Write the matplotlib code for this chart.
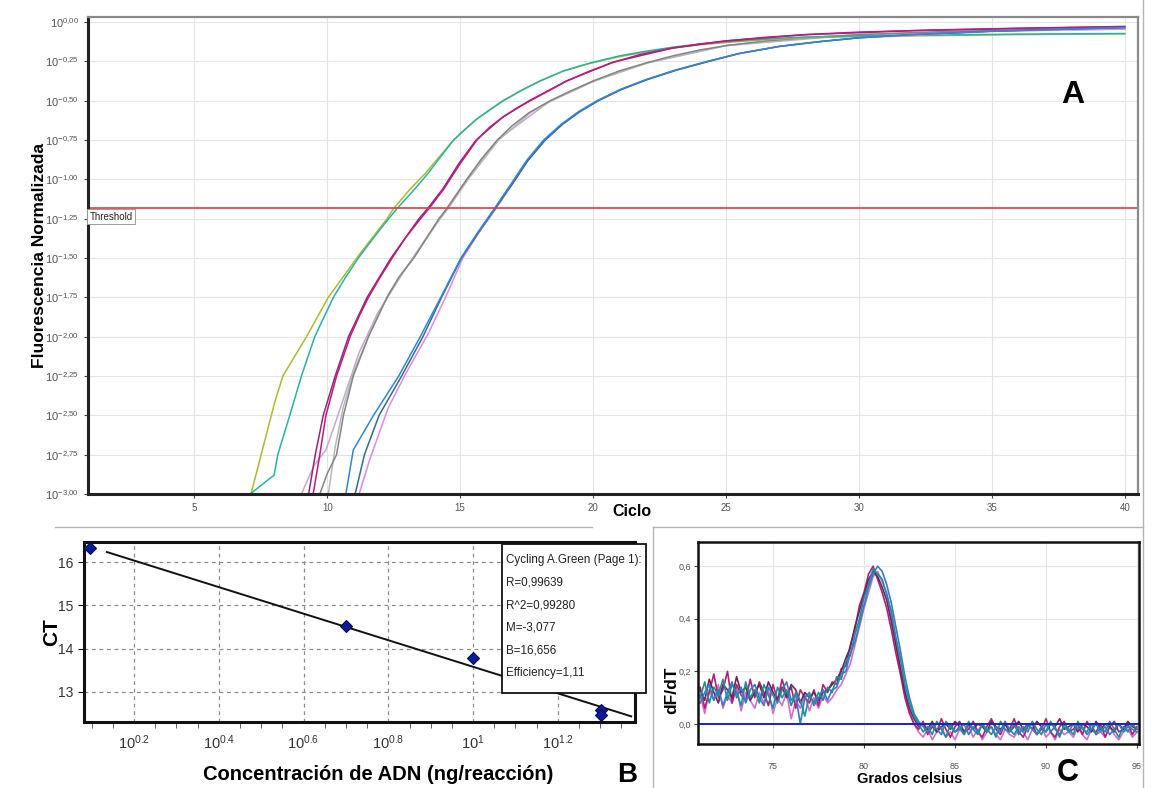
import numpy as np
import matplotlib

matplotlib.use("Agg")
import matplotlib.pyplot as plt
from matplotlib.lines import Line2D
from matplotlib.patches import Rectangle
from matplotlib.ticker import FixedLocator, NullFormatter

plt.rcParams["font.family"] = ["Liberation Sans", "DejaVu Sans"]
plt.rcParams["mathtext.fontset"] = "custom"
plt.rcParams["mathtext.rm"] = "Liberation Sans"
plt.rcParams["mathtext.it"] = "Liberation Sans"

W, H = 1157, 788

# ---------------- panel A: amplification curves (cycle, log10 fluorescence)
olive_cycle = [7.13, 8.02, 8.33, 9.22, 10.04, 10.6, 11.11, 11.7, 12.25, 12.5,
               13.13, 13.7, 14.2, 14.7, 15.2, 15.6, 16.1, 16.6, 17.3, 18.0,
               18.9, 19.9, 21.0, 22.0, 23.0, 24.0, 25.0, 26.5, 28.0, 30.0,
               33.0, 36.0, 40.0]
olive_logf = [-3.0, -2.42, -2.25, -2.0, -1.75, -1.62, -1.5, -1.37, -1.25, -1.185,
              -1.06, -0.96, -0.86, -0.76, -0.68, -0.62, -0.56, -0.5, -0.435, -0.375,
              -0.31, -0.262, -0.22, -0.19, -0.165, -0.145, -0.13, -0.112, -0.1, -0.092,
              -0.086, -0.08, -0.075]
teal_cycle = [7.1, 8.0, 8.14, 8.59, 9.03, 9.53, 10.23, 10.7, 11.17, 11.75,
              12.31, 12.63, 13.3, 13.8, 14.25, 14.75, 15.2, 15.6, 16.1, 16.63,
              17.3, 18.0, 18.9, 19.9, 21.0, 22.0, 23.0, 24.0, 25.0, 26.5,
              28.0, 30.0, 33.0, 36.0, 40.0]
teal_logf = [-3.0, -2.88, -2.75, -2.5, -2.25, -2.0, -1.75, -1.62, -1.5, -1.37,
             -1.25, -1.185, -1.06, -0.96, -0.86, -0.75, -0.68, -0.62, -0.56, -0.5,
             -0.435, -0.375, -0.31, -0.26, -0.215, -0.185, -0.16, -0.14, -0.125, -0.107,
             -0.095, -0.088, -0.082, -0.077, -0.073]
magenta_cycle = [9.47, 9.72, 9.95, 10.35, 10.86, 11.2, 11.55, 12.0, 12.44, 12.95,
                 13.51, 13.83, 14.39, 15.0, 15.63, 16.1, 16.6, 17.1, 17.64, 18.3,
                 19.0, 19.9, 20.78, 21.8, 23.0, 24.0, 25.0, 26.5, 28.0, 30.0,
                 33.0, 36.0, 40.0]
magenta_logf = [-3.0, -2.75, -2.5, -2.25, -2.0, -1.87, -1.75, -1.62, -1.5, -1.37,
                -1.25, -1.185, -1.06, -0.9, -0.75, -0.67, -0.605, -0.55, -0.5, -0.44,
                -0.375, -0.31, -0.255, -0.205, -0.165, -0.14, -0.12, -0.097, -0.08, -0.064,
                -0.05, -0.04, -0.03]
purple_cycle = [9.3, 9.55, 9.85, 10.3, 10.8, 11.5, 12.4, 13.45, 13.78, 14.35,
                14.95, 15.6, 16.6, 17.6, 19.0, 20.75, 23.0, 25.0, 28.0, 32.0,
                36.0, 40.0]
purple_logf = [-3.0, -2.75, -2.5, -2.25, -2.0, -1.75, -1.5, -1.25, -1.185, -1.06,
               -0.9, -0.75, -0.605, -0.5, -0.375, -0.255, -0.165, -0.12, -0.08, -0.055,
               -0.04, -0.028]
lavender_cycle = [9.03, 9.5, 9.95, 10.3, 10.7, 11.2, 11.9, 12.9, 13.9, 14.5,
                  15.25, 16.4, 18.4, 20.0, 22.0, 25.0, 30.0, 35.0, 40.0]
lavender_logf = [-3.0, -2.82, -2.72, -2.55, -2.35, -2.1, -1.85, -1.58, -1.33, -1.185,
                 -1.0, -0.75, -0.5, -0.375, -0.26, -0.15, -0.08, -0.055, -0.045]
gray_cycle = [9.72, 10.0, 10.35, 10.61, 10.98, 11.55, 12.25, 12.7, 13.26, 13.75,
              14.2, 14.5, 15.25, 15.8, 16.4, 16.95, 17.6, 18.39, 19.2, 20.0,
              21.0, 22.0, 23.0, 24.0, 25.0, 26.5, 28.0, 30.0, 33.0, 36.0,
              40.0]
gray_logf = [-3.0, -2.87, -2.75, -2.5, -2.25, -2.0, -1.75, -1.62, -1.5, -1.37,
             -1.25, -1.185, -1.0, -0.87, -0.75, -0.66, -0.575, -0.5, -0.435, -0.375,
             -0.31, -0.26, -0.215, -0.178, -0.15, -0.12, -0.1, -0.08, -0.062, -0.05,
             -0.04]
lightgray_cycle = [10.04, 10.3, 10.6, 11.0, 11.6, 12.3, 13.3, 14.25, 14.55, 15.3,
                   16.45, 17.65, 18.45, 20.05, 22.05, 25.0, 28.0, 32.0, 36.0, 40.0]
lightgray_logf = [-3.0, -2.7, -2.45, -2.22, -1.98, -1.73, -1.48, -1.25, -1.185, -1.0,
                  -0.75, -0.575, -0.5, -0.375, -0.26, -0.15, -0.1, -0.07, -0.055, -0.045]
blue_cycle = [10.7, 10.98, 11.74, 12.69, 13.5, 14.27, 15.03, 15.65, 16.29, 16.95,
              17.5, 18.14, 18.8, 19.45, 20.15, 21.0, 22.0, 23.1, 24.3, 25.5,
              27.0, 28.5, 30.0, 32.0, 35.0, 40.0]
blue_logf = [-3.0, -2.72, -2.5, -2.25, -2.0, -1.75, -1.5, -1.34, -1.185, -1.02,
             -0.88, -0.75, -0.65, -0.57, -0.5, -0.43, -0.365, -0.305, -0.25, -0.2,
             -0.155, -0.125, -0.1, -0.08, -0.058, -0.035]
steel_cycle = [11.05, 11.4, 11.95, 12.8, 13.6, 14.3, 15.05, 15.68, 16.32, 17.0,
               17.55, 18.2, 18.85, 19.5, 20.2, 21.05, 22.05, 23.15, 24.35, 25.5,
               27.0, 28.5, 30.0, 32.0, 35.0, 40.0]
steel_logf = [-3.0, -2.75, -2.5, -2.25, -2.0, -1.75, -1.5, -1.34, -1.185, -1.02,
              -0.88, -0.75, -0.65, -0.57, -0.5, -0.43, -0.365, -0.305, -0.25, -0.2,
              -0.155, -0.125, -0.1, -0.08, -0.058, -0.035]
pink_cycle = [11.2, 11.6, 12.3, 13.0, 13.8, 14.45, 15.1, 15.7, 16.35, 17.0,
              17.55, 18.2, 18.85, 19.5, 20.2, 21.05, 22.05, 23.15, 24.35, 25.5,
              27.0, 28.5, 30.0, 32.0, 35.0, 40.0]
pink_logf = [-3.0, -2.78, -2.45, -2.22, -1.98, -1.75, -1.5, -1.34, -1.185, -1.02,
             -0.88, -0.75, -0.65, -0.57, -0.5, -0.43, -0.365, -0.305, -0.25, -0.2,
             -0.155, -0.125, -0.1, -0.085, -0.06, -0.04]
threshold_log = -1.185
a_ytick_exp = [0.0, -0.25, -0.5, -0.75, -1.0, -1.25, -1.5, -1.75, -2.0, -2.25, -2.5, -2.75, -3.0]
a_xticks = [5, 10, 15, 20, 25, 30, 35, 40]

# ---------------- panel B: standard curve
conc_ng = [1.25, 5.0, 10.0, 20.0, 20.0]
ct_values = [16.32, 14.53, 13.79, 12.58, 12.47]
fit_m = -3.077
fit_b = 16.656
fit_log_range = [0.136, 1.373]
b_xtick_log = [0.2, 0.4, 0.6, 0.8, 1.0, 1.2]
b_xtick_labels = ["$10^{0.2}$", "$10^{0.4}$", "$10^{0.6}$", "$10^{0.8}$", "$10^{1}$", "$10^{1.2}$"]
b_yticks = [13, 14, 15, 16]
fit_text = ["Cycling A.Green (Page 1):", "R=0,99639", "R^2=0,99280", "M=-3,077",
            "B=16,656", "Efficiency=1,11"]

# ---------------- panel C: melt curves, dF/dT every 0.25 degC from 71 to 95
melt_temp = np.arange(71.0, 95.01, 0.25)
melt_pink = [0.11, 0.04, 0.13, 0.09, 0.15, 0.06, 0.11, 0.08, 0.14, 0.05, 0.12, 0.09,
             0.06, 0.12, 0.08, 0.13, 0.04, 0.10, 0.07, 0.12, 0.02, 0.09, 0.06, 0.11,
             0.05, 0.10, 0.06, 0.11, 0.08, 0.10, 0.13, 0.15, 0.19, 0.23, 0.30, 0.37,
             0.44, 0.50, 0.56, 0.58, 0.54, 0.50, 0.41, 0.32, 0.22, 0.13, 0.05, 0.00,
             -0.03, -0.05, -0.02, -0.06, -0.03, -0.01, -0.05, -0.03, -0.06, -0.02, -0.04, -0.01,
             -0.05, -0.02, -0.06, -0.03, -0.01, -0.04, -0.06, -0.02, -0.04, -0.05, -0.02, -0.03,
             -0.06, -0.02, -0.04, -0.01, -0.05, -0.03, -0.06, -0.02, -0.04, -0.03, -0.05, -0.01,
             -0.04, -0.06, -0.02, -0.04, -0.03, -0.05, -0.01, -0.04, -0.06, -0.03, -0.02, -0.05,
             -0.03]
melt_magenta = [0.14, 0.06, 0.12, 0.19, 0.10, 0.13, 0.20, 0.08, 0.15, 0.11, 0.09, 0.17,
                0.10, 0.16, 0.12, 0.07, 0.15, 0.09, 0.17, 0.11, 0.14, 0.06, 0.13, 0.10,
                0.08, 0.13, 0.07, 0.15, 0.12, 0.16, 0.15, 0.21, 0.22, 0.30, 0.36, 0.45,
                0.50, 0.57, 0.60, 0.55, 0.50, 0.44, 0.36, 0.27, 0.19, 0.10, 0.04, 0.00,
                -0.02, 0.01, -0.04, -0.01, -0.03, 0.02, -0.02, -0.05, -0.01, 0.01, -0.03, -0.02,
                0.01, -0.03, -0.05, -0.01, 0.02, -0.02, -0.04, 0.00, -0.02, 0.02, -0.03, -0.05,
                -0.01, 0.00, -0.04, -0.02, 0.02, -0.03, -0.05, -0.01, 0.01, -0.03, -0.02, 0.00,
                -0.04, 0.01, -0.02, -0.03, 0.00, -0.05, -0.01, 0.01, -0.03, -0.02, 0.00, -0.04,
                -0.01]
melt_maroon = [0.13, 0.09, 0.17, 0.12, 0.08, 0.15, 0.13, 0.10, 0.18, 0.12, 0.14, 0.09,
               0.12, 0.15, 0.10, 0.16, 0.12, 0.09, 0.14, 0.10, 0.15, 0.13, 0.08, 0.12,
               0.10, 0.12, 0.09, 0.12, 0.13, 0.15, 0.17, 0.20, 0.25, 0.29, 0.37, 0.43,
               0.49, 0.55, 0.58, 0.56, 0.52, 0.47, 0.39, 0.30, 0.21, 0.12, 0.06, 0.02,
               -0.01, 0.00, -0.02, 0.01, -0.03, -0.01, 0.00, -0.02, 0.01, -0.01, -0.03, 0.00,
               -0.02, 0.00, -0.01, -0.03, 0.01, -0.01, -0.02, 0.00, -0.03, -0.01, 0.01, -0.02,
               0.00, -0.02, 0.01, -0.01, -0.03, 0.00, -0.01, 0.02, -0.02, -0.01, 0.00, -0.03,
               0.00, -0.01, -0.03, 0.01, -0.02, 0.00, -0.01, -0.03, 0.00, -0.02, 0.01, -0.01,
               -0.02]
melt_blue = [0.08, 0.12, 0.15, 0.09, 0.13, 0.07, 0.12, 0.16, 0.10, 0.14, 0.08, 0.13,
             0.15, 0.10, 0.07, 0.14, 0.11, 0.08, 0.13, 0.16, 0.09, 0.11, 0.00, 0.10,
             0.12, 0.07, 0.10, 0.13, 0.09, 0.13, 0.14, 0.19, 0.20, 0.27, 0.31, 0.38,
             0.45, 0.52, 0.57, 0.60, 0.58, 0.53, 0.46, 0.37, 0.28, 0.18, 0.10, 0.04,
             0.01, -0.01, -0.03, 0.00, -0.02, -0.04, 0.01, -0.01, -0.03, -0.02, 0.00, -0.04,
             -0.01, -0.03, 0.00, -0.02, -0.04, -0.01, -0.03, 0.01, -0.02, -0.04, -0.01, -0.03,
             0.00, -0.02, -0.04, -0.01, -0.03, 0.01, -0.02, -0.04, -0.01, -0.03, 0.00, -0.02,
             -0.01, -0.04, -0.02, 0.00, -0.03, -0.01, -0.04, -0.02, 0.00, -0.03, -0.01, -0.02,
             -0.03]
melt_teal = [0.10, 0.16, 0.08, 0.14, 0.11, 0.17, 0.09, 0.15, 0.12, 0.07, 0.16, 0.10,
             0.13, 0.08, 0.15, 0.11, 0.06, 0.14, 0.10, 0.13, 0.07, 0.12, 0.09, 0.03,
             0.11, 0.08, 0.12, 0.09, 0.14, 0.12, 0.18, 0.17, 0.24, 0.26, 0.34, 0.40,
             0.48, 0.53, 0.59, 0.57, 0.55, 0.49, 0.43, 0.33, 0.25, 0.15, 0.08, 0.03,
             0.00, -0.03, -0.01, -0.04, 0.01, -0.02, -0.05, 0.00, -0.03, -0.01, -0.04, 0.01,
             -0.02, -0.04, 0.00, -0.03, -0.01, -0.05, 0.01, -0.02, -0.03, 0.00, -0.04, -0.01,
             -0.03, 0.01, -0.02, -0.04, 0.00, -0.03, -0.01, -0.05, 0.00, -0.02, -0.04, 0.01,
             -0.02, -0.03, 0.00, -0.04, -0.01, -0.03, 0.01, -0.02, -0.05, -0.01, -0.03, 0.00,
             -0.02]
c_xticks = [75, 80, 85, 90, 95]
c_yticks = [0.0, 0.2, 0.4, 0.6]


def fig_box(left, top, right, bottom):
    """Axes rectangle from pixel edges of the reference image."""
    return [left / W, 1 - bottom / H, (right - left) / W, (bottom - top) / H]


def fig_xy(x, y):
    return x / W, 1 - y / H


fig = plt.figure(figsize=(W / 100, H / 100), dpi=100)

# ---------------- panel A
axA = fig.add_axes(fig_box(88, 17, 1138, 494))
axA.set_yscale("log")
axA.set_xlim(1.0, 40.5)
axA.set_ylim(10 ** -3.0, 10 ** 0.032)
axA.yaxis.set_major_locator(FixedLocator([10 ** e for e in a_ytick_exp]))
axA.yaxis.set_minor_locator(FixedLocator([]))
axA.set_yticklabels(["$10^{%s}$" % f"{e:.2f}".replace(".", "{,}") for e in a_ytick_exp])
axA.set_xticks(a_xticks)
axA.grid(True, color="#e4e4e4", lw=0.8)
axA.set_axisbelow(True)
axA.tick_params(axis="both", labelsize=7, labelcolor="#555555", color="#444444", length=3)
axA.tick_params(axis="y", labelsize=8)
for side in ("left", "bottom"):
    axA.spines[side].set_linewidth(2.2)
    axA.spines[side].set_color("#222222")
for side in ("top", "right"):
    axA.spines[side].set_linewidth(1.6)
    axA.spines[side].set_color("#8a8a8a")

curves = [
    (lavender_cycle, lavender_logf, "#c7a6cf"),
    (lightgray_cycle, lightgray_logf, "#b8b8b8"),
    (gray_cycle, gray_logf, "#858585"),
    (olive_cycle, olive_logf, "#aebb2a"),
    (teal_cycle, teal_logf, "#25b4a8"),
    (purple_cycle, purple_logf, "#8a2a7e"),
    (magenta_cycle, magenta_logf, "#c8157e"),
    (pink_cycle, pink_logf, "#e486e6"),
    (steel_cycle, steel_logf, "#2f6d92"),
    (blue_cycle, blue_logf, "#2f86db"),
]
for cyc, logf, color in curves:
    axA.plot(cyc, 10 ** np.array(logf), color=color, lw=1.1)

axA.axhline(10 ** threshold_log, color="#e23c3c", lw=1.2)
axA.text(1.06, 10 ** (threshold_log - 0.02), "Threshold", fontsize=7, va="top", ha="left",
         color="#222222",
         bbox=dict(boxstyle="square,pad=0.25", fc="white", ec="#9a9a9a", lw=0.7))

fig.text(*fig_xy(40, 255), "Fluorescencia Normalizada", rotation=90, fontsize=12.5,
         fontweight="bold", ha="center", va="center")
fig.text(*fig_xy(632, 512), "Ciclo", fontsize=11.5, fontweight="bold",
         ha="center", va="center")
fig.text(*fig_xy(1073, 95), "A", fontsize=23, fontweight="bold",
         ha="center", va="center")

# ---------------- panel B
axB = fig.add_axes(fig_box(84, 542, 635, 722))
axB.set_xscale("log")
axB.set_xlim(10 ** 0.082, 10 ** 1.382)
axB.set_ylim(12.3, 16.47)
axB.xaxis.set_major_locator(FixedLocator([10 ** v for v in b_xtick_log]))
axB.xaxis.set_minor_locator(FixedLocator([10 ** (0.1 + 0.05 * k) for k in range(27)]))
axB.xaxis.set_minor_formatter(NullFormatter())
axB.set_xticklabels(b_xtick_labels)
axB.set_yticks(b_yticks)
axB.grid(True, which="major", ls=(0, (3, 3)), color="#8c8c8c", lw=0.9)
axB.set_axisbelow(True)
for side in axB.spines:
    axB.spines[side].set_linewidth(2.2)
    axB.spines[side].set_color("#111111")
axB.tick_params(axis="x", which="major", length=0, labelsize=10.5, pad=8, labelcolor="#333333")
axB.tick_params(axis="x", which="minor", length=4, color="#444444")
axB.tick_params(axis="y", length=4, labelsize=10, labelcolor="#333333")

line_x = [10 ** v for v in fit_log_range]
line_y = [fit_m * v + fit_b for v in fit_log_range]
axB.plot(line_x, line_y, color="#111111", lw=1.4)
axB.plot(conc_ng, ct_values, ls="none", marker="D", ms=6, mfc="#0d1a9c",
         mec="#06104f", mew=0.8, clip_on=False, zorder=5)

box_l, box_t, box_r, box_b = 502, 544, 646, 693
fig.patches.append(Rectangle((box_l / W, 1 - box_b / H), (box_r - box_l) / W,
                             (box_b - box_t) / H, transform=fig.transFigure,
                             fc="white", ec="#111111", lw=1.3, zorder=10))
for k, line in enumerate(fit_text):
    fig.text(*fig_xy(506, 560 + 22.6 * k), line, fontsize=8.4,
             color="#222222", ha="left", va="center", zorder=11)

fig.text(*fig_xy(52, 632), "CT", rotation=90, fontsize=15, fontweight="bold",
         ha="center", va="center")
fig.text(*fig_xy(378, 774), "Concentración de ADN (ng/reacción)", fontsize=14.5,
         fontweight="bold", ha="center", va="center")
fig.text(*fig_xy(627, 775), "B", fontsize=20, fontweight="bold", ha="center", va="center")

# ---------------- panel C
axC = fig.add_axes(fig_box(698, 542, 1139, 744))
axC.set_xlim(70.88, 95.11)
axC.set_ylim(-0.076, 0.692)
axC.set_xticks(c_xticks)
axC.set_yticks(c_yticks)
axC.set_yticklabels([f"{v:.1f}".replace(".", ",") for v in c_yticks])
axC.grid(True, color="#e4e4e4", lw=0.8)
axC.set_axisbelow(True)
for side in axC.spines:
    axC.spines[side].set_linewidth(1.8)
    axC.spines[side].set_color("#111111")
axC.tick_params(axis="both", labelsize=6.5, labelcolor="#555555", color="#444444", length=3)
axC.tick_params(axis="x", pad=10)
axC.tick_params(axis="y", pad=2)

for trace, color in ((melt_pink, "#d86ad8"), (melt_magenta, "#b51e7a"),
                     (melt_maroon, "#6e2458"), (melt_blue, "#2f7fd0"),
                     (melt_teal, "#1c8f98")):
    axC.plot(melt_temp, trace, color=color, lw=1.2)
axC.axhline(0.0, color="#1a22c8", lw=1.4)

fig.text(*fig_xy(672, 690), "dF/dT", rotation=90, fontsize=12.5, fontweight="bold",
         ha="center", va="center")
fig.text(*fig_xy(910, 779), "Grados celsius", fontsize=10.5, fontweight="bold",
         ha="center", va="center")
fig.text(*fig_xy(1068, 773), "C", fontsize=22, fontweight="bold", ha="center", va="center")

# ---------------- thin panel frames
frame = dict(color="#b4b4b4", lw=1.0, transform=fig.transFigure)
for (x0, y0), (x1, y1) in (
    ((55, 527), (592, 527)),
    ((653, 527), (1143, 527)),
    ((653, 527), (653, 788)),
    ((1143, 0), (1143, 788)),
):
    fig.add_artist(Line2D([x0 / W, x1 / W], [1 - y0 / H, 1 - y1 / H], **frame))

fig.savefig("out.png", dpi=100)
